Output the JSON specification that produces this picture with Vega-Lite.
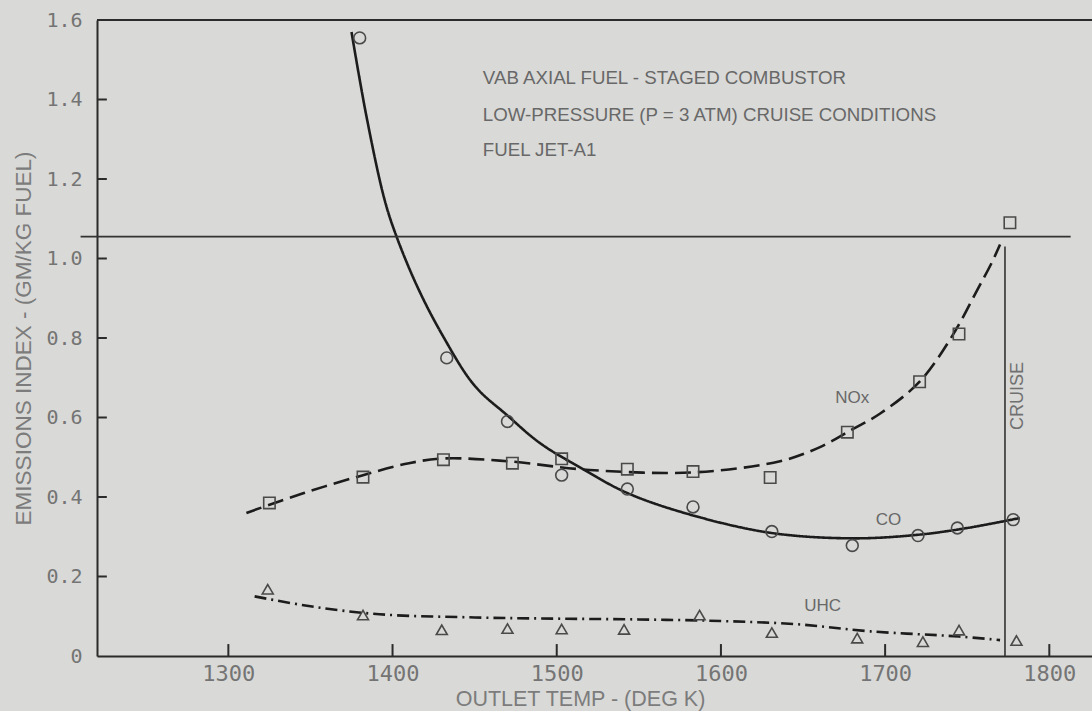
{
  "$schema": "https://vega.github.io/schema/vega-lite/v6.json",
  "width": 995,
  "height": 636,
  "autosize": {"type": "none"},
  "padding": {"left": 97, "top": 20, "right": 0, "bottom": 55},
  "background": "#d9d9d7",
  "config": {
    "view": {"stroke": null},
    "font": "Liberation Sans",
    "axis": {
      "grid": false,
      "ticks": false,
      "domainColor": "#2b2b2b",
      "domainWidth": 2,
      "labelFont": "DejaVu Sans Mono",
      "labelColor": "#747474",
      "titleFont": "Liberation Sans",
      "titleFontWeight": "normal",
      "titleColor": "#7c7c7c"
    }
  },
  "datasets": {
    "measured": [
      {"series": "CO", "temp": 1380, "ei": 1.555},
      {"series": "CO", "temp": 1433, "ei": 0.75},
      {"series": "CO", "temp": 1470, "ei": 0.59},
      {"series": "CO", "temp": 1503, "ei": 0.455},
      {"series": "CO", "temp": 1543, "ei": 0.42},
      {"series": "CO", "temp": 1583, "ei": 0.375},
      {"series": "CO", "temp": 1631, "ei": 0.313},
      {"series": "CO", "temp": 1680, "ei": 0.278},
      {"series": "CO", "temp": 1720, "ei": 0.303},
      {"series": "CO", "temp": 1744, "ei": 0.322},
      {"series": "CO", "temp": 1778, "ei": 0.343},
      {"series": "NOx", "temp": 1325, "ei": 0.385},
      {"series": "NOx", "temp": 1382, "ei": 0.45},
      {"series": "NOx", "temp": 1431, "ei": 0.494},
      {"series": "NOx", "temp": 1473, "ei": 0.485},
      {"series": "NOx", "temp": 1503, "ei": 0.496},
      {"series": "NOx", "temp": 1543, "ei": 0.47},
      {"series": "NOx", "temp": 1583, "ei": 0.464},
      {"series": "NOx", "temp": 1630, "ei": 0.449},
      {"series": "NOx", "temp": 1677, "ei": 0.563},
      {"series": "NOx", "temp": 1721, "ei": 0.69},
      {"series": "NOx", "temp": 1745, "ei": 0.81},
      {"series": "NOx", "temp": 1776, "ei": 1.09},
      {"series": "UHC", "temp": 1324, "ei": 0.168},
      {"series": "UHC", "temp": 1382, "ei": 0.103},
      {"series": "UHC", "temp": 1430, "ei": 0.066},
      {"series": "UHC", "temp": 1470, "ei": 0.069},
      {"series": "UHC", "temp": 1503, "ei": 0.068},
      {"series": "UHC", "temp": 1541, "ei": 0.067},
      {"series": "UHC", "temp": 1587, "ei": 0.103},
      {"series": "UHC", "temp": 1631, "ei": 0.059},
      {"series": "UHC", "temp": 1683, "ei": 0.045},
      {"series": "UHC", "temp": 1723, "ei": 0.036},
      {"series": "UHC", "temp": 1745, "ei": 0.065},
      {"series": "UHC", "temp": 1780, "ei": 0.039}
    ],
    "faired": [
      {"series": "CO", "temp": 1375, "ei": 1.57},
      {"series": "CO", "temp": 1384, "ei": 1.36},
      {"series": "CO", "temp": 1395, "ei": 1.15},
      {"series": "CO", "temp": 1402, "ei": 1.06},
      {"series": "CO", "temp": 1415, "ei": 0.93},
      {"series": "CO", "temp": 1430, "ei": 0.81},
      {"series": "CO", "temp": 1450, "ei": 0.68},
      {"series": "CO", "temp": 1470, "ei": 0.605},
      {"series": "CO", "temp": 1490, "ei": 0.535},
      {"series": "CO", "temp": 1516, "ei": 0.47},
      {"series": "CO", "temp": 1543, "ei": 0.41},
      {"series": "CO", "temp": 1581, "ei": 0.356},
      {"series": "CO", "temp": 1630, "ei": 0.31},
      {"series": "CO", "temp": 1680, "ei": 0.296},
      {"series": "CO", "temp": 1720, "ei": 0.305},
      {"series": "CO", "temp": 1750, "ei": 0.322},
      {"series": "CO", "temp": 1782, "ei": 0.347},
      {"series": "NOx", "temp": 1311, "ei": 0.36},
      {"series": "NOx", "temp": 1346, "ei": 0.41},
      {"series": "NOx", "temp": 1382, "ei": 0.455},
      {"series": "NOx", "temp": 1410, "ei": 0.485},
      {"series": "NOx", "temp": 1431, "ei": 0.497},
      {"series": "NOx", "temp": 1470, "ei": 0.49},
      {"series": "NOx", "temp": 1520, "ei": 0.468},
      {"series": "NOx", "temp": 1583, "ei": 0.462},
      {"series": "NOx", "temp": 1636, "ei": 0.49},
      {"series": "NOx", "temp": 1660, "ei": 0.525},
      {"series": "NOx", "temp": 1680, "ei": 0.57},
      {"series": "NOx", "temp": 1697, "ei": 0.61},
      {"series": "NOx", "temp": 1721, "ei": 0.69},
      {"series": "NOx", "temp": 1741, "ei": 0.806},
      {"series": "NOx", "temp": 1756, "ei": 0.92},
      {"series": "NOx", "temp": 1765, "ei": 0.99},
      {"series": "NOx", "temp": 1770, "ei": 1.035},
      {"series": "UHC", "temp": 1316, "ei": 0.15},
      {"series": "UHC", "temp": 1350, "ei": 0.125},
      {"series": "UHC", "temp": 1392, "ei": 0.105},
      {"series": "UHC", "temp": 1450, "ei": 0.097},
      {"series": "UHC", "temp": 1500, "ei": 0.094},
      {"series": "UHC", "temp": 1550, "ei": 0.092},
      {"series": "UHC", "temp": 1600, "ei": 0.088},
      {"series": "UHC", "temp": 1646, "ei": 0.08},
      {"series": "UHC", "temp": 1691, "ei": 0.062},
      {"series": "UHC", "temp": 1745, "ei": 0.049},
      {"series": "UHC", "temp": 1770, "ei": 0.04}
    ],
    "temp_ticks": [
      {"temp": 1300}, {"temp": 1400}, {"temp": 1500}, {"temp": 1600}, {"temp": 1700}, {"temp": 1800}
    ],
    "ei_ticks": [
      {"ei": 0.2}, {"ei": 0.4}, {"ei": 0.6}, {"ei": 0.8}, {"ei": 1.0}, {"ei": 1.2}, {"ei": 1.4}
    ],
    "notes": [
      {"kind": "header", "text": "VAB AXIAL FUEL - STAGED COMBUSTOR", "temp": 1455, "ei": 1.455},
      {"kind": "header", "text": "LOW-PRESSURE (P = 3 ATM) CRUISE CONDITIONS", "temp": 1455, "ei": 1.362},
      {"kind": "header", "text": "FUEL  JET-A1", "temp": 1455, "ei": 1.273},
      {"kind": "series", "text": "NOx", "temp": 1680, "ei": 0.649},
      {"kind": "series", "text": "CO", "temp": 1702, "ei": 0.343},
      {"kind": "series", "text": "UHC", "temp": 1662, "ei": 0.126},
      {"kind": "cruise", "text": "CRUISE", "temp": 1781, "ei": 0.654}
    ]
  },
  "layer": [
    {
      "data": {"name": "faired"},
      "mark": {"type": "line", "interpolate": "catmull-rom", "color": "#1c1c1c", "strokeWidth": 2.6},
      "encoding": {
        "x": {
          "field": "temp", "type": "quantitative",
          "scale": {"domain": [1220, 1826], "nice": false, "zero": false},
          "axis": {
            "title": "OUTLET TEMP - (DEG K)",
            "values": [1300, 1400, 1500, 1600, 1700, 1800],
            "format": "d",
            "labelFontSize": 22,
            "labelPadding": 7,
            "titleFontSize": 21.5,
            "titleBaseline": "alphabetic",
            "titleY": 49,
            "titleX": 483
          }
        },
        "y": {
          "field": "ei", "type": "quantitative",
          "scale": {"domain": [0, 1.6], "nice": false, "zero": false},
          "axis": {
            "title": "EMISSIONS INDEX - (GM/KG FUEL)",
            "values": [0, 0.2, 0.4, 0.6, 0.8, 1.0, 1.2, 1.4, 1.6],
            "labelExpr": "datum.value == 0 ? '0' : format(datum.value, '.1f')",
            "labelFontSize": 20,
            "labelPadding": 15,
            "titleFontSize": 22.5,
            "titlePadding": 10
          }
        },
        "detail": {"field": "series"},
        "strokeDash": {
          "field": "series", "type": "nominal",
          "scale": {"domain": ["CO", "NOx", "UHC"], "range": [[1, 0], [16, 7], [12, 5, 2, 5]]},
          "legend": null
        }
      }
    },
    {
      "data": {"name": "temp_ticks"},
      "mark": {"type": "rule", "color": "#2b2b2b", "strokeWidth": 2},
      "encoding": {
        "x": {"field": "temp", "type": "quantitative"},
        "y": {"datum": 0},
        "y2": {"datum": 0.03}
      }
    },
    {
      "data": {"name": "ei_ticks"},
      "mark": {"type": "rule", "color": "#2b2b2b", "strokeWidth": 2},
      "encoding": {
        "y": {"field": "ei", "type": "quantitative"},
        "x": {"datum": 1220},
        "x2": {"datum": 1226}
      }
    },
    {
      "data": {"values": [{"t0": 1210, "t1": 1813, "ei": 1.055}]},
      "mark": {"type": "rule", "color": "#333333", "strokeWidth": 1.6},
      "encoding": {
        "x": {"field": "t0", "type": "quantitative"},
        "x2": {"field": "t1"},
        "y": {"field": "ei", "type": "quantitative"}
      }
    },
    {
      "data": {"values": [{"ei": 1.6}]},
      "mark": {"type": "rule", "color": "#2b2b2b", "strokeWidth": 2},
      "encoding": {
        "y": {"field": "ei", "type": "quantitative"}
      }
    },
    {
      "data": {"values": [{"temp": 1773, "lo": 0, "hi": 1.03}]},
      "mark": {"type": "rule", "color": "#333333", "strokeWidth": 1.6},
      "encoding": {
        "x": {"field": "temp", "type": "quantitative"},
        "y": {"field": "lo", "type": "quantitative"},
        "y2": {"field": "hi"}
      }
    },
    {
      "data": {"name": "measured"},
      "mark": {"type": "point", "filled": false, "stroke": "#4a4a4a", "strokeWidth": 1.6, "opacity": 1},
      "encoding": {
        "x": {"field": "temp", "type": "quantitative"},
        "y": {"field": "ei", "type": "quantitative"},
        "shape": {
          "field": "series", "type": "nominal",
          "scale": {"domain": ["CO", "NOx", "UHC"], "range": ["circle", "square", "triangle-up"]},
          "legend": null
        },
        "size": {
          "field": "series", "type": "nominal",
          "scale": {"domain": ["CO", "NOx", "UHC"], "range": [140, 120, 150]},
          "legend": null
        }
      }
    },
    {
      "data": {"name": "notes"},
      "transform": [{"filter": "datum.kind == 'header'"}],
      "mark": {"type": "text", "align": "left", "baseline": "middle", "fontSize": 18.7, "color": "#686868"},
      "encoding": {
        "x": {"field": "temp", "type": "quantitative"},
        "y": {"field": "ei", "type": "quantitative"},
        "text": {"field": "text"}
      }
    },
    {
      "data": {"name": "notes"},
      "transform": [{"filter": "datum.kind == 'series'"}],
      "mark": {"type": "text", "align": "center", "baseline": "middle", "fontSize": 17, "color": "#686868"},
      "encoding": {
        "x": {"field": "temp", "type": "quantitative"},
        "y": {"field": "ei", "type": "quantitative"},
        "text": {"field": "text"}
      }
    },
    {
      "data": {"name": "notes"},
      "transform": [{"filter": "datum.kind == 'cruise'"}],
      "mark": {"type": "text", "align": "center", "baseline": "middle", "angle": 270, "fontSize": 18, "color": "#707070"},
      "encoding": {
        "x": {"field": "temp", "type": "quantitative"},
        "y": {"field": "ei", "type": "quantitative"},
        "text": {"field": "text"}
      }
    }
  ]
}
